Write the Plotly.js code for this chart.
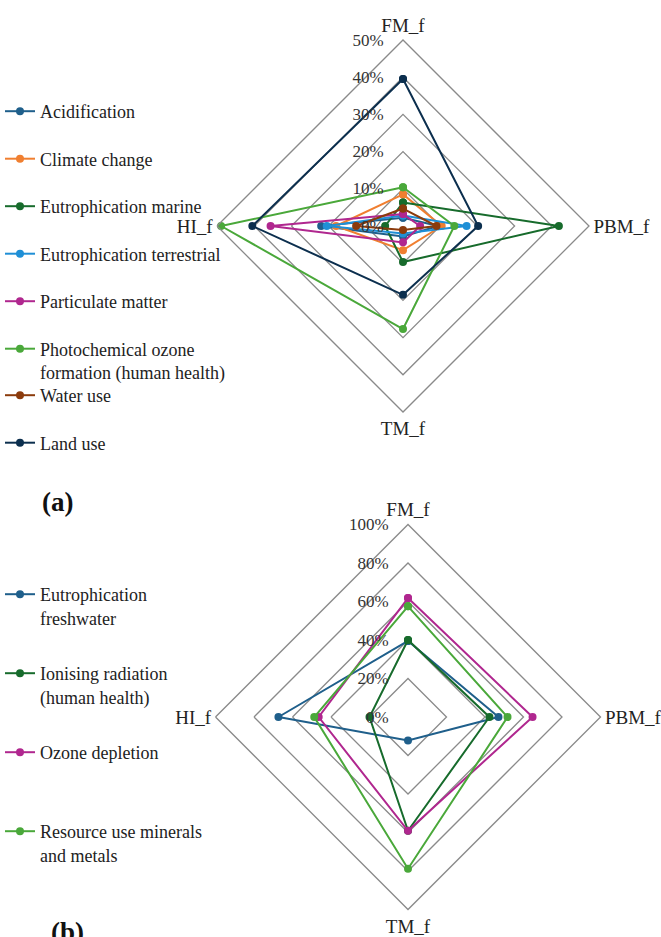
<!DOCTYPE html>
<html>
<head>
<meta charset="utf-8">
<script src="https://cdn.plot.ly/plotly-3.0.1.min.js"></script>
<style>html,body{margin:0;padding:0;background:#fff;}#chart{width:661px;height:937px;}</style>
</head>
<body>
<div id="chart"></div>
<script>
// ---- Data ----
const axesCats = ["FM_f", "PBM_f", "TM_f", "HI_f"];

// Panel (a) – values in %
const seriesA = ["Acidification", "Climate change", "Eutrophication marine", "Eutrophication terrestrial",
  "Particulate matter", "Photochemical ozone<br>formation (human health)", "Water use", "Land use"];
const acidification = [2.2, 9.5, 2.8, 22.0];
const climateChange = [8.5, 10.4, 6.5, 18.0];
const eutroMarine = [6.3, 41.9, 9.7, 4.8];
const eutroTerrestrial = [2.8, 17.1, 2.0, 20.5];
const particulateMatter = [3.2, 4.6, 4.4, 35.6];
const photochemOzone = [10.4, 13.8, 27.7, 48.9];
const waterUse = [4.7, 9.0, 1.1, 12.6];
const landUse = [39.5, 20.2, 18.5, 40.5];
const valuesA = [acidification, climateChange, eutroMarine, eutroTerrestrial, particulateMatter, photochemOzone, waterUse, landUse];
const colorsA = ["#1f5f8b", "#f07f30", "#176b2c", "#1f8fd6", "#b0278f", "#4aa83a", "#8b3b0c", "#0c2f4e"];
const ticksA = [0, 10, 20, 30, 40, 50];

// Panel (b) – values in %
const seriesB = ["Eutrophication<br>freshwater", "Ionising radiation<br>(human health)", "Ozone depletion", "Resource use minerals<br>and metals"];
const eutroFreshwater = [39.5, 47.0, 12.2, 67.3];
const ionisingRadiation = [40.0, 42.3, 59.1, 20.0];
const ozoneDepletion = [61.8, 64.7, 59.1, 46.4];
const resourceUse = [57.5, 51.7, 78.8, 48.7];
const valuesB = [eutroFreshwater, ionisingRadiation, ozoneDepletion, resourceUse];
const colorsB = ["#1f5f8b", "#176b2c", "#b0278f", "#4aa83a"];
const ticksB = [0, 20, 40, 60, 80, 100];

// ---- Layout helpers ----
const W = 661, H = 937;
const FONT = "Liberation Serif";
function dom(cx, cy, r) {
  return { x: [(cx - r) / W, (cx + r) / W], y: [1 - (cy + r) / H, 1 - (cy - r) / H] };
}
const closeTheta = axesCats.concat([axesCats[0]]);

const traces = [];
function addSeries(names, vals, cols, subplot, legendFor) {
  names.forEach((n, i) => {
    const v = vals[i];
    traces.push({
      type: "scatterpolar",
      subplot: subplot,
      r: v.concat([v[0]]),
      theta: closeTheta,
      mode: "lines+markers",
      name: n,
      legend: legendFor(i),
      legendgroup: subplot + "_" + i,
      line: { color: cols[i], width: 2 },
      marker: { color: cols[i], size: 8 },
      cliponaxis: false,
      hoverinfo: "name+theta+r"
    });
  });
}
addSeries(seriesA, valuesA, colorsA, "polar", i => (i < 6 ? "legend" : "legend2"));
addSeries(seriesB, valuesB, colorsB, "polar2", i => (i < 3 ? "legend3" : "legend4"));

function polarCfg(d, ticks) {
  return {
    domain: d,
    gridshape: "linear",
    bgcolor: "rgba(0,0,0,0)",
    angularaxis: {
      categoryorder: "array", categoryarray: axesCats,
      rotation: 90, direction: "clockwise",
      showgrid: false, showline: true, linecolor: "#8a8a8a", linewidth: 1.3,
      ticks: "", tickfont: { family: FONT, size: 19, color: "#222" }
    },
    radialaxis: {
      range: [ticks[0], ticks[ticks.length - 1]],
      tickvals: ticks, ticktext: ticks.map(t => t + "%"),
      angle: 90, tickangle: 90, side: "counterclockwise",
      showline: false, ticks: "outside", ticklen: 13, tickcolor: "rgba(0,0,0,0)",
      gridcolor: "#8a8a8a", gridwidth: 1.3,
      tickfont: { family: FONT, size: 17, color: "#333" }
    }
  };
}

const legendBase = {
  xanchor: "left", yanchor: "top", x: 0,
  bgcolor: "rgba(0,0,0,0)", borderwidth: 0,
  font: { family: FONT, size: 18, color: "#222" },
  traceorder: "grouped", valign: "top", itemclick: false
};

const layout = {
  width: W, height: H,
  margin: { l: 0, r: 0, t: 0, b: 0 },
  paper_bgcolor: "#fff",
  showlegend: true,
  font: { family: FONT, color: "#222" },
  polar: polarCfg(dom(403, 226, 186), ticksA),
  polar2: polarCfg(dom(408, 717, 192.5), ticksB),
  legend: Object.assign({}, legendBase, { y: 1 - 93 / H, tracegroupgap: 21.1 }),
  legend2: Object.assign({}, legendBase, { y: 1 - 377 / H, tracegroupgap: 21.1 }),
  legend3: Object.assign({}, legendBase, { y: 1 - 576 / H, tracegroupgap: 29.2 }),
  legend4: Object.assign({}, legendBase, { y: 1 - 813 / H, tracegroupgap: 20 }),
  annotations: [
    { text: "<b>(a)</b>", xref: "paper", yref: "paper", x: 57 / W, y: 1 - 502 / H,
      xanchor: "center", yanchor: "middle", showarrow: false, font: { family: FONT, size: 27, color: "#111" } },
    { text: "<b>(b)</b>", xref: "paper", yref: "paper", x: 67 / W, y: 1 - 932 / H,
      xanchor: "center", yanchor: "middle", showarrow: false, font: { family: FONT, size: 27, color: "#111" } }
  ]
};

Plotly.newPlot("chart", traces, layout, { staticPlot: true, displayModeBar: false });
</script>
</body>
</html>
